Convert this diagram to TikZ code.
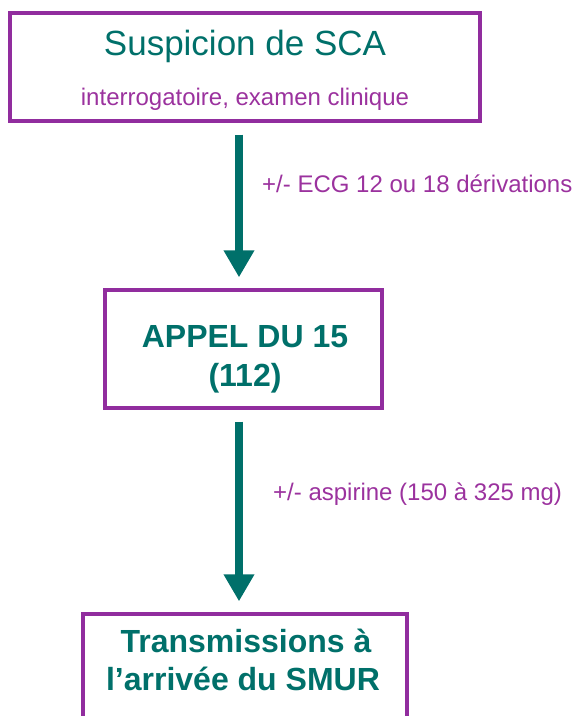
\documentclass[tikz,border=0pt]{standalone}
\usepackage{fontspec}
\setmainfont{Liberation Sans}
\usetikzlibrary{arrows.meta}
\definecolor{teal1}{RGB}{0,112,106}
\definecolor{plum}{RGB}{155,50,158}
\definecolor{frame}{RGB}{145,45,158}
\tikzset{
  box/.style={draw=frame, line width=3.3pt, rectangle, inner sep=0pt},
  title/.style={text=teal1, anchor=base, inner sep=0pt},
  note/.style={text=plum, anchor=base, inner sep=0pt, font=\fontsize{24}{28}\selectfont},
  flow/.style={draw=teal1, line width=8.5pt,
    -{Triangle[width=29pt,length=27pt,fill=teal1]},
    shorten <=12pt, shorten >=11pt}
}
\begin{document}
\begin{tikzpicture}[x=1pt,y=-1pt]
\clip (0,0) rectangle (576,716);
\useasboundingbox (0,0) rectangle (576,716);

% boxes
\node[box, minimum width=470pt, minimum height=108pt] (b1) at (245,67) {};
\node[box, minimum width=277pt, minimum height=118pt] (b2) at (243.5,349) {};
\node[box, minimum width=324pt, minimum height=160pt] (b3) at (245,694) {};

% box texts
\node[title, font=\fontsize{35}{42}\selectfont] (t1) at (245,55) {Suspicion de SCA};
\node[note] (t1b) at (245,105) {interrogatoire, examen clinique};
\node[title, font=\bfseries\fontsize{32}{38}\selectfont] (t2a) at (245,347) {APPEL DU 15};
\node[title, font=\bfseries\fontsize{32}{38}\selectfont] (t2b) at (245,386) {(112)};
\node[title, font=\bfseries\fontsize{32}{38}\selectfont] (t3a) at (246,652) {Transmissions à};
\node[title, font=\bfseries\fontsize{32}{38}\selectfont] (t3b) at (243,690) {l’arrivée du SMUR};

% connectors
\coordinate (ax) at (239,0);
\draw[flow] (b1.south -| ax) -- (b2.north -| ax);
\draw[flow] (b2.south -| ax) -- (b3.north -| ax);

% connector labels
\node[note, anchor=base west] (l1) at (262,192) {+/- ECG 12 ou 18 dérivations};
\node[note, anchor=base west] (l2) at (273,500) {+/- aspirine (150 à 325 mg)};
\end{tikzpicture}
\end{document}
